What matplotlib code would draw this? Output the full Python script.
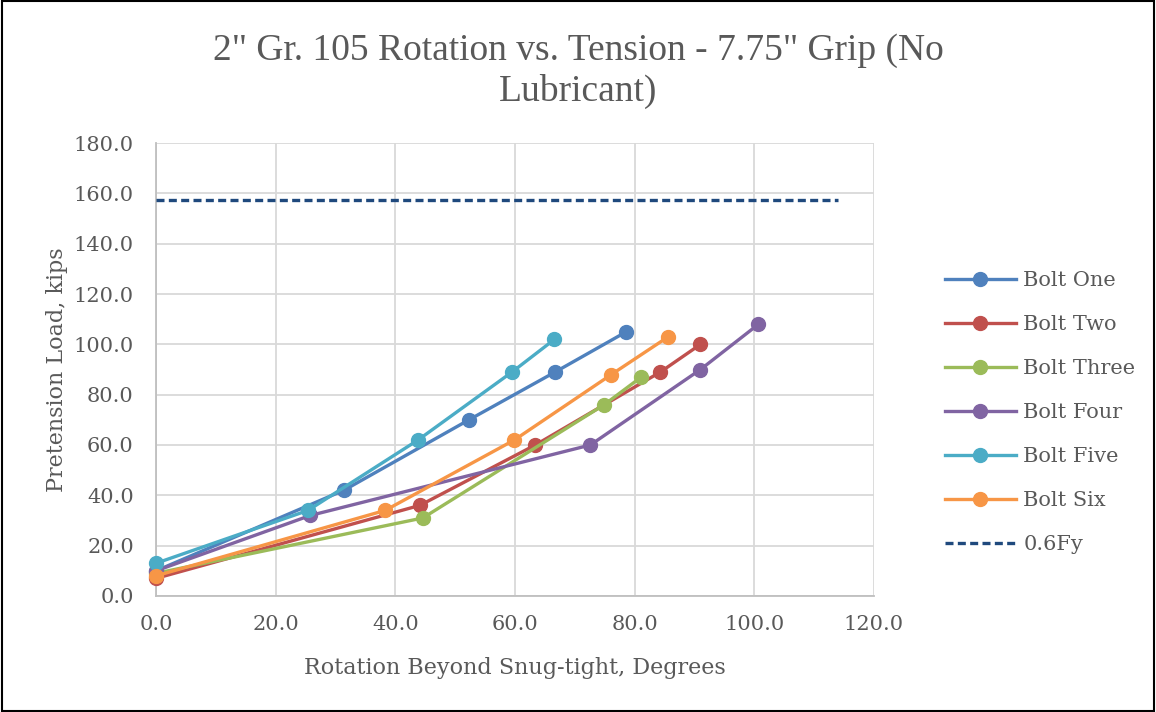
import numpy as np
import matplotlib.pyplot as plt
from matplotlib.patches import Rectangle

plt.rcParams['font.family'] = ['DejaVu Serif', 'Liberation Serif']

# data
bolt_one_x = [0.0, 31.4, 52.3, 66.7, 78.6]
bolt_one_y = [10.0, 42.0, 70.0, 89.0, 105.0]
bolt_two_x = [0.0, 44.1, 63.4, 84.3, 91.0]
bolt_two_y = [7.0, 36.0, 60.0, 89.0, 100.0]
bolt_three_x = [0.0, 44.6, 74.9, 81.1]
bolt_three_y = [9.0, 31.0, 76.0, 87.0]
bolt_four_x = [0.0, 25.8, 72.6, 91.0, 100.7]
bolt_four_y = [10.0, 32.0, 60.0, 90.0, 108.0]
bolt_five_x = [0.0, 25.4, 43.8, 59.5, 66.6]
bolt_five_y = [13.0, 34.0, 62.0, 89.0, 102.0]
bolt_six_x = [0.0, 38.3, 59.9, 76.1, 85.6]
bolt_six_y = [8.0, 34.0, 62.0, 88.0, 103.0]
fy_x = [0.0, 114.0]
fy_y = [157.5, 157.5]

series = [
    ("Bolt One", bolt_one_x, bolt_one_y, "#4F81BD"),
    ("Bolt Two", bolt_two_x, bolt_two_y, "#C0504D"),
    ("Bolt Three", bolt_three_x, bolt_three_y, "#9BBB59"),
    ("Bolt Four", bolt_four_x, bolt_four_y, "#8064A2"),
    ("Bolt Five", bolt_five_x, bolt_five_y, "#4BACC6"),
    ("Bolt Six", bolt_six_x, bolt_six_y, "#F79646"),
]

grey = "#595959"
fig = plt.figure(figsize=(11.56, 7.12), dpi=100)
ax = fig.add_axes([0.135, 0.163, 0.621, 0.636])

for name, xs, ys, c in series:
    ax.plot(xs, ys, color=c, lw=2.4, marker="o", ms=10, label=name, clip_on=False, zorder=3)
ax.plot(fy_x, fy_y, color="#1F497D", lw=2.4, ls=(0, (2.4, 1.3)), label="0.6Fy", zorder=3)

ax.set_xlim(0, 120)
ax.set_ylim(0, 180)
ax.set_xticks(np.arange(0, 121, 20))
ax.set_yticks(np.arange(0, 181, 20))
ax.xaxis.set_major_formatter(lambda v, p: f"{v:.1f}")
ax.yaxis.set_major_formatter(lambda v, p: f"{v:.1f}")
ax.tick_params(length=0, labelsize=15, labelcolor=grey)
ax.tick_params(axis="y", pad=16)
ax.tick_params(axis="x", pad=14)
ax.grid(color="#D9D9D9", lw=1.3)
ax.set_axisbelow(True)
for s in ["top", "right"]:
    ax.spines[s].set_visible(False)
for s in ["left", "bottom"]:
    ax.spines[s].set_color("#BFBFBF")
    ax.spines[s].set_linewidth(1.3)

ax.set_xlabel("Rotation Beyond Snug-tight, Degrees", fontsize=16, color=grey, labelpad=16)
ax.set_ylabel("Pretension Load, kips", fontsize=16, color=grey, labelpad=4)
fig.text(0.5, 0.9, "2\" Gr. 105 Rotation vs. Tension - 7.75\" Grip (No\nLubricant)",
         ha="center", va="center", fontsize=27, color=grey, linespacing=1.2,
         family="Liberation Serif")

leg = ax.legend(loc="center left", bbox_to_anchor=(0.8175, 0.42), bbox_transform=fig.transFigure,
                frameon=False, fontsize=15, labelcolor=grey, handlelength=3.4, labelspacing=1.2,
                borderpad=0.0, borderaxespad=0.0, handletextpad=0.35)

fig.patches.append(Rectangle((0.002, 0.002), 0.996, 0.996, transform=fig.transFigure,
                             fill=False, ec="black", lw=1.5))

fig.savefig("out.png", dpi=100)
